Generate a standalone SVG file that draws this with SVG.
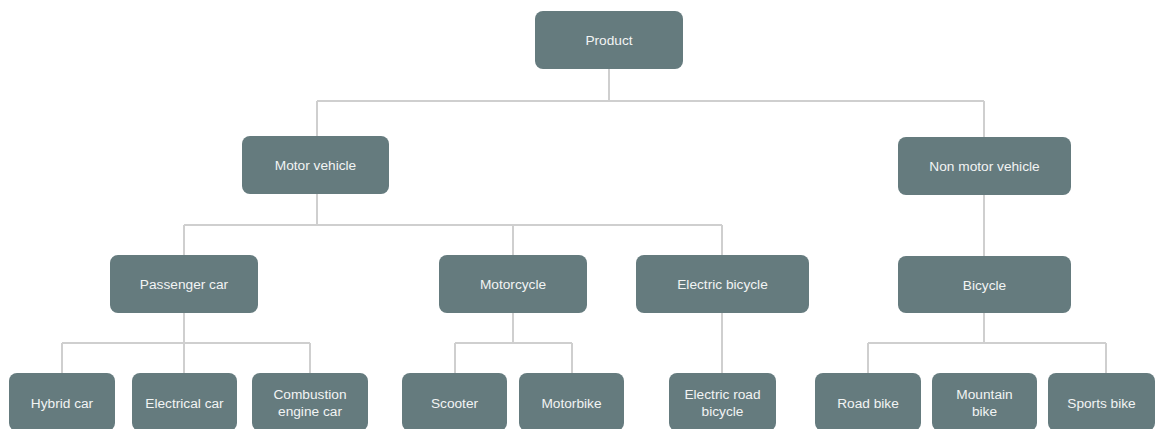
<svg xmlns="http://www.w3.org/2000/svg" width="1159" height="429" viewBox="0 0 1159 429">
  <style>
    .node rect { fill: #657b7e; }
    .node text { fill: #f2f4f4; font-family: "Liberation Sans", Arial, sans-serif; font-size: 13.7px; text-anchor: middle; dominant-baseline: central; }
    .links path { fill: none; stroke: #cfcfcf; stroke-width: 2; }
  </style>
  <rect width="1159" height="429" fill="#ffffff"/>

  <g class="links">
    <path d="M609 69 V101 M317 101 H984 M317 101 V136 M984 101 V137"/>
    <path d="M317 194 V225 M184 225 H722 M184 225 V255 M513 225 V255 M722 225 V255"/>
    <path d="M984 195 V256"/>
    <path d="M184 313 V343 M62 343 H310 M62 343 V373 M184 343 V373 M310 343 V373"/>
    <path d="M513 313 V343 M455 343 H572 M455 343 V373 M572 343 V373"/>
    <path d="M722 313 V373"/>
    <path d="M984 313 V343 M868 343 H1106 M868 343 V373 M1106 343 V373"/>
  </g>

  <g id="product" class="node"><rect x="535" y="11" width="148" height="58" rx="8"/><text x="609" y="40">Product</text></g>
  <g id="motor-vehicle" class="node"><rect x="242" y="136" width="147" height="58" rx="8"/><text x="315.5" y="165">Motor vehicle</text></g>
  <g id="non-motor-vehicle" class="node"><rect x="898" y="137" width="173" height="58" rx="8"/><text x="984.5" y="166">Non motor vehicle</text></g>

  <g id="passenger-car" class="node"><rect x="110" y="255" width="148" height="58" rx="8"/><text x="184" y="284">Passenger car</text></g>
  <g id="motorcycle" class="node"><rect x="439" y="255" width="148" height="58" rx="8"/><text x="513" y="284">Motorcycle</text></g>
  <g id="electric-bicycle" class="node"><rect x="636" y="255" width="173" height="58" rx="8"/><text x="722.5" y="284">Electric bicycle</text></g>
  <g id="bicycle" class="node"><rect x="898" y="256" width="173" height="57" rx="8"/><text x="984.5" y="285">Bicycle</text></g>

  <g id="hybrid-car" class="node"><rect x="9" y="373" width="106" height="58" rx="8"/><text x="62" y="403">Hybrid car</text></g>
  <g id="electrical-car" class="node"><rect x="132" y="373" width="105" height="58" rx="8"/><text x="184.5" y="403">Electrical car</text></g>
  <g id="combustion-engine-car" class="node"><rect x="252" y="373" width="116" height="58" rx="8"/><text x="310" y="394">Combustion</text><text x="310" y="411">engine car</text></g>
  <g id="scooter" class="node"><rect x="402" y="373" width="105" height="58" rx="8"/><text x="454.5" y="403">Scooter</text></g>
  <g id="motorbike" class="node"><rect x="519" y="373" width="105" height="58" rx="8"/><text x="571.5" y="403">Motorbike</text></g>
  <g id="electric-road-bicycle" class="node"><rect x="669" y="373" width="107" height="58" rx="8"/><text x="722.5" y="394">Electric road</text><text x="722.5" y="411">bicycle</text></g>
  <g id="road-bike" class="node"><rect x="815" y="373" width="106" height="58" rx="8"/><text x="868" y="403">Road bike</text></g>
  <g id="mountain-bike" class="node"><rect x="932" y="373" width="105" height="58" rx="8"/><text x="984.5" y="394">Mountain</text><text x="984.5" y="411">bike</text></g>
  <g id="sports-bike" class="node"><rect x="1048" y="373" width="107" height="58" rx="8"/><text x="1101.5" y="403">Sports bike</text></g>
</svg>
